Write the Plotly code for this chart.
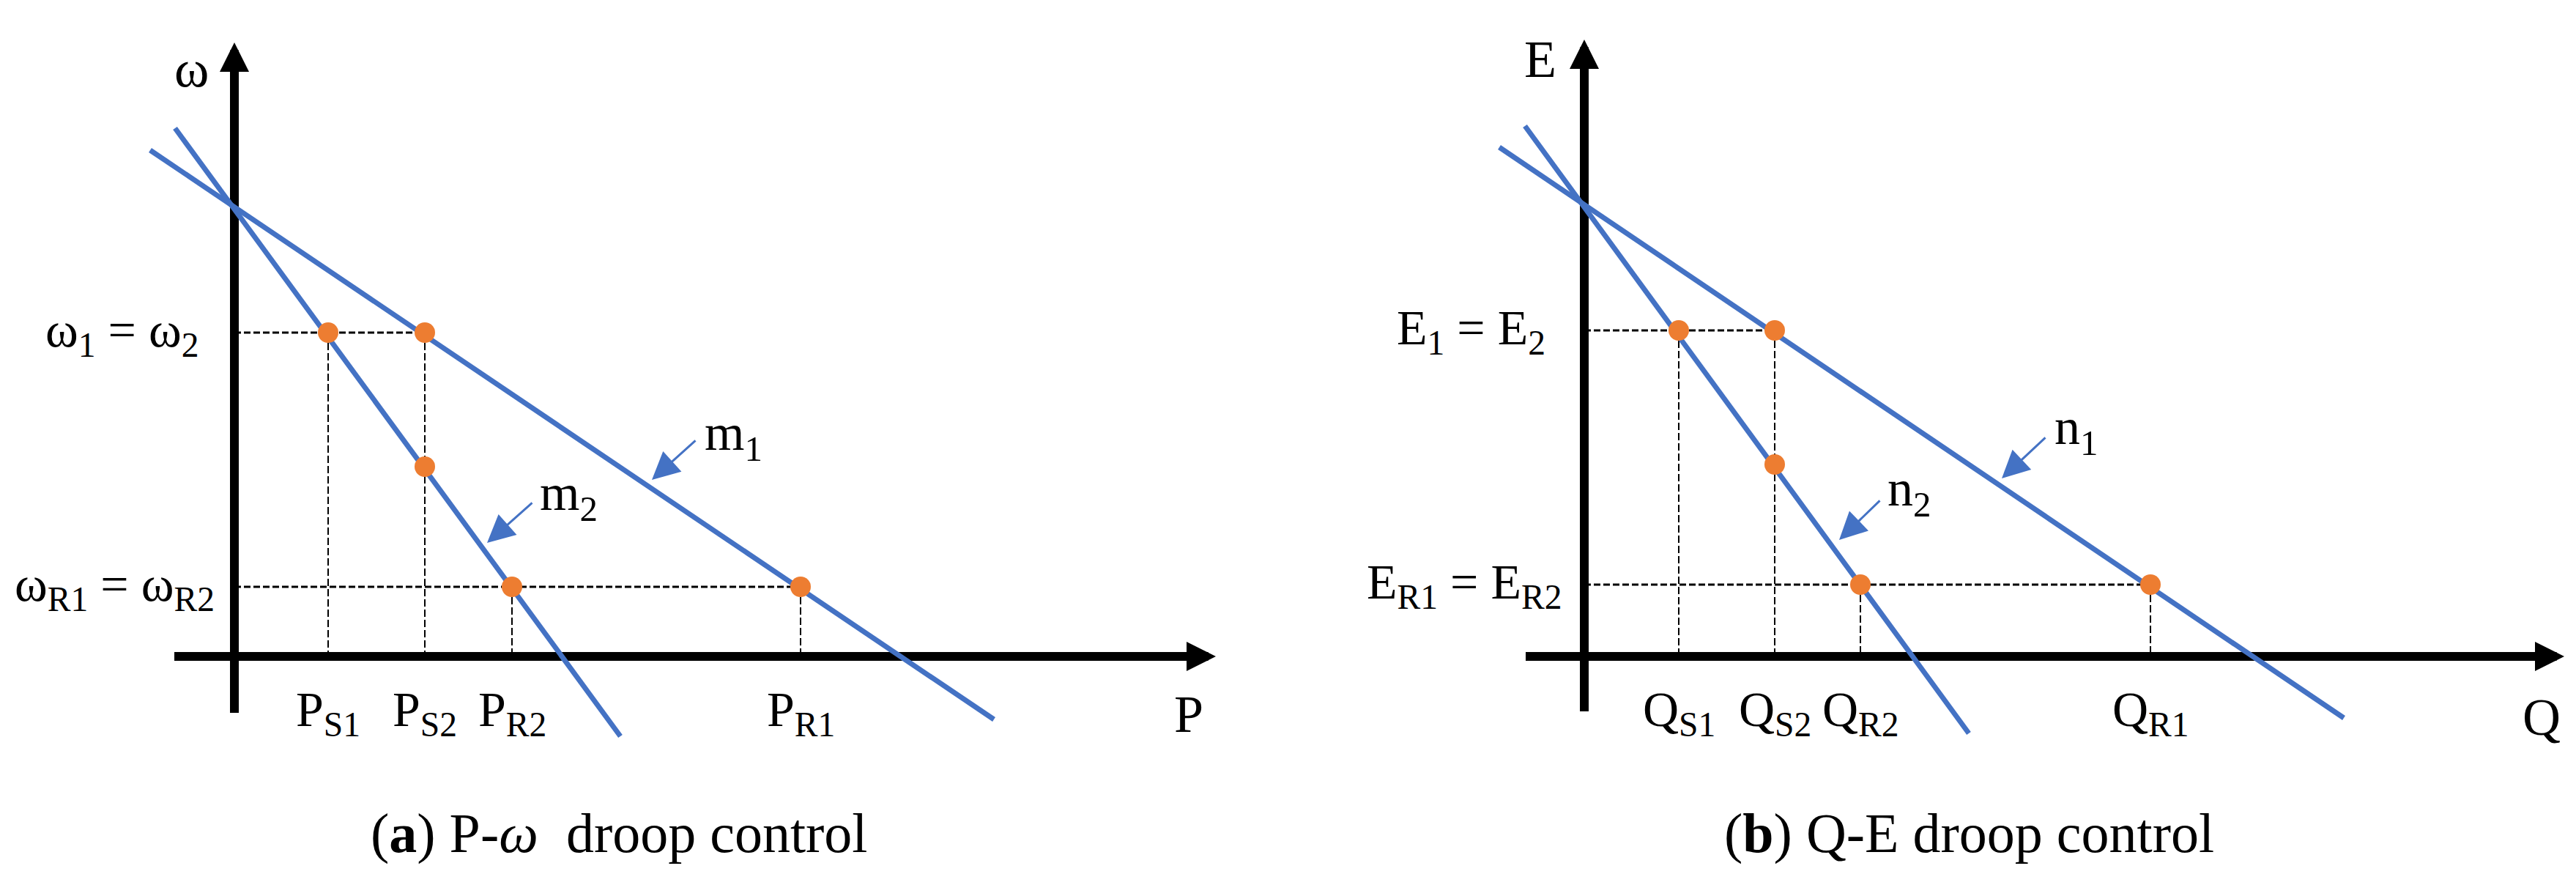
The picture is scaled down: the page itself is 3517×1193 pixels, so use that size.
import plotly.graph_objects as go

# ---------------- data (diagram units; origin = axis crossing) ----------------
# Panel (a): P-omega droop
P_ticks = [1.28, 2.60, 3.79, 7.73]            # P_S1, P_S2, P_R2, P_R1
P_tick_labels = ["P<sub>S1</sub>", "P<sub>S2</sub>", "P<sub>R2</sub>", "P<sub>R1</sub>"]
w_levels = [4.42, 0.95]                         # w1=w2, wR1=wR2
w_level_labels = ["ω<sub>1</sub> = ω<sub>2</sub>", "ω<sub>R1</sub> = ω<sub>R2</sub>"]
m1_x = [-1.15, 10.37]
m1_y = [6.91, -0.86]
m2_x = [-0.81, 5.27]
m2_y = [7.21, -1.09]
dots_a_x = [1.28, 2.60, 2.60, 3.79, 7.73]
dots_a_y = [4.42, 4.42, 2.59, 0.95, 0.95]
axis_a_x = [-0.82, 13.40]   # horizontal axis start, tip
axis_a_y = [-0.77, 8.38]    # vertical axis start, tip

# Panel (b): Q-E droop
Q_ticks = [1.29, 2.60, 3.77, 7.73]            # Q_S1, Q_S2, Q_R2, Q_R1
Q_tick_labels = ["Q<sub>S1</sub>", "Q<sub>S2</sub>", "Q<sub>R2</sub>", "Q<sub>R1</sub>"]
E_levels = [4.45, 0.98]
E_level_labels = ["E<sub>1</sub> = E<sub>2</sub>", "E<sub>R1</sub> = E<sub>R2</sub>"]
n1_x = [-1.16, 10.37]
n1_y = [6.95, -0.84]
n2_x = [-0.81, 5.25]
n2_y = [7.24, -1.05]
dots_b_x = [1.29, 2.60, 2.60, 3.77, 7.73]
dots_b_y = [4.45, 4.45, 2.62, 0.98, 0.98]
axis_b_x = [-0.80, 13.38]
axis_b_y = [-0.75, 8.42]

# ---------------- styles ----------------
BLUE = "#4472C4"
ORANGE = "#ED7D31"
FONT = "Liberation Serif"

fig = go.Figure()


def panel(xa, ya, ticks, tick_labels, levels, level_labels, l1x, l1y, l2x, l2y,
          dx, dy, ax_x, ax_y, axis_name, yaxis_name, line_names, caption,
          lvl_right, axname_pos, yname_pos, lbl_pos, arr_pos):
    xref, yref = xa, ya
    # dashed guide lines
    hx, hy = [], []
    hx += [0, ticks[1], None]
    hy += [levels[0], levels[0], None]
    hx += [0, ticks[3], None]
    hy += [levels[1], levels[1], None]
    vx, vy = [], []
    for i, t in enumerate(ticks):
        lv = levels[0] if i < 2 else levels[1]
        vx += [t, t, None]
        vy += [lv, 0, None]
    fig.add_trace(go.Scatter(x=hx, y=hy, mode="lines", xaxis=xa, yaxis=ya,
                             line=dict(color="black", width=3, dash="9px,4px"),
                             hoverinfo="skip"))
    fig.add_trace(go.Scatter(x=vx, y=vy, mode="lines", xaxis=xa, yaxis=ya,
                             line=dict(color="black", width=2, dash="10px,4px"),
                             hoverinfo="skip"))
    # axes lines
    fig.add_trace(go.Scatter(x=[ax_x[0], ax_x[1] - 0.3], y=[0, 0], mode="lines",
                             xaxis=xa, yaxis=ya, line=dict(color="black", width=12),
                             hoverinfo="skip"))
    fig.add_trace(go.Scatter(x=[0, 0], y=[ax_y[0], ax_y[1] - 0.3], mode="lines",
                             xaxis=xa, yaxis=ya, line=dict(color="black", width=12),
                             hoverinfo="skip"))
    # droop lines
    for lx, ly in ((l1x, l1y), (l2x, l2y)):
        fig.add_trace(go.Scatter(x=lx, y=ly, mode="lines", xaxis=xa, yaxis=ya,
                                 line=dict(color=BLUE, width=7), hoverinfo="skip"))
    # operating points
    fig.add_trace(go.Scatter(x=dx, y=dy, mode="markers", xaxis=xa, yaxis=ya,
                             marker=dict(color=ORANGE, size=28, line=dict(width=0)),
                             hoverinfo="skip"))
    # axis arrowheads
    fig.add_annotation(x=ax_x[1], y=0, ax=ax_x[1] - 0.5, ay=0, xref=xref, yref=yref,
                       axref=xref, ayref=yref, text="", showarrow=True, arrowhead=2,
                       arrowsize=0.667, arrowwidth=12, arrowcolor="black")
    fig.add_annotation(x=0, y=ax_y[1], ax=0, ay=ax_y[1] - 0.5, xref=xref, yref=yref,
                       axref=xref, ayref=yref, text="", showarrow=True, arrowhead=2,
                       arrowsize=0.667, arrowwidth=12, arrowcolor="black")
    # axis names
    fig.add_annotation(x=yname_pos[0], y=yname_pos[1], xref=xref, yref=yref, text=yaxis_name,
                       showarrow=False, font=dict(family=FONT, size=72, color="black"))
    fig.add_annotation(x=axname_pos[0], y=axname_pos[1], xref=xref, yref=yref, text=axis_name,
                       showarrow=False, font=dict(family=FONT, size=72, color="black"))
    # tick labels
    for t, lab in zip(ticks, tick_labels):
        fig.add_annotation(x=t, y=-0.76, xref=xref, yref=yref, text=lab, showarrow=False,
                           xanchor="center", yanchor="middle",
                           font=dict(family=FONT, size=68, color="black"))
    for lv, lab, rx in zip(levels, level_labels, lvl_right):
        fig.add_annotation(x=rx, y=lv, xref=xref, yref=yref, text=lab, showarrow=False,
                           xanchor="right", yanchor="middle",
                           font=dict(family=FONT, size=68, color="black"))
    # line labels with arrows
    for name, (tx, ty), (sx, sy, ex, ey) in zip(line_names, lbl_pos, arr_pos):
        fig.add_annotation(x=tx, y=ty, xref=xref, yref=yref, text=name, showarrow=False,
                           xanchor="left", yanchor="middle",
                           font=dict(family=FONT, size=70, color="black"))
        fig.add_annotation(x=ex, y=ey, ax=sx, ay=sy, xref=xref, yref=yref, axref=xref,
                           ayref=yref, text="", showarrow=True, arrowhead=2, arrowsize=2.5,
                           arrowwidth=3, arrowcolor=BLUE)
    # caption
    fig.add_annotation(x=5.25, y=-2.41, xref=xref, yref=yref, text=caption, showarrow=False,
                       xanchor="center", yanchor="middle",
                       font=dict(family=FONT, size=76, color="black"))


panel("x", "y", P_ticks, P_tick_labels, w_levels, w_level_labels, m1_x, m1_y, m2_x, m2_y,
      dots_a_x, dots_a_y, axis_a_x, axis_a_y, "P", "ω", ["m<sub>1</sub>", "m<sub>2</sub>"],
      "(<b>a</b>) P-<i>ω</i>&nbsp;&nbsp;droop control",
      [-0.47, -0.25], (13.03, -0.79), (-0.59, 8.02),
      [(6.40, 3.0), (4.15, 2.18)],
      [(6.31, 2.96, 5.70, 2.41), (4.08, 2.11, 3.45, 1.55)])

panel("x2", "y2", Q_ticks, Q_tick_labels, E_levels, E_level_labels, n1_x, n1_y, n2_x, n2_y,
      dots_b_x, dots_b_y, axis_b_x, axis_b_y, "Q", "E", ["n<sub>1</sub>", "n<sub>2</sub>"],
      "(<b>b</b>) Q-E droop control",
      [-0.51, -0.28], (13.07, -0.83), (-0.60, 8.15),
      [(6.40, 3.08), (4.12, 2.24)],
      [(6.31, 3.0, 5.70, 2.43), (4.05, 2.14, 3.48, 1.59)])

hidden = dict(visible=False, fixedrange=True)
fig.update_layout(
    width=3517, height=1193,
    margin=dict(l=0, r=0, t=0, b=0),
    paper_bgcolor="white", plot_bgcolor="white",
    showlegend=False,
    xaxis=dict(domain=[0, 0.5], range=[-3.12, 14.465], **hidden),
    yaxis=dict(domain=[0, 1], range=[-3.05, 8.88], **hidden),
    xaxis2=dict(domain=[0.5, 1], range=[-3.965, 13.62], **hidden),
    yaxis2=dict(domain=[0, 1], range=[-3.05, 8.88], anchor="x2", **hidden),
)

fig.write_html("out.html")
